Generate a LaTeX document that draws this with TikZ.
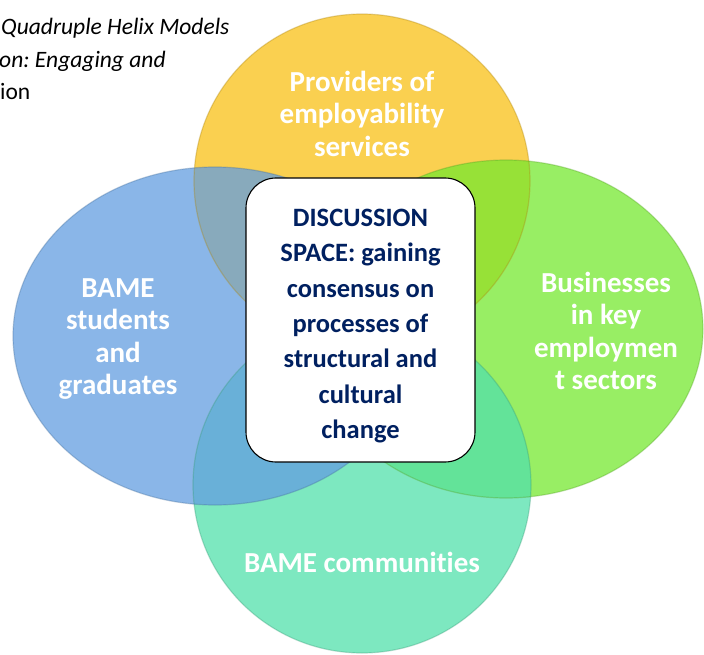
\documentclass[tikz,border=0pt]{standalone}
\usepackage{fontspec}
\setmainfont{Carlito}[RawFeature={-liga;-dlig;-clig}]
\definecolor{provYellow}{RGB}{248,192,22}
\definecolor{studBlue}{RGB}{99,158,224}
\definecolor{bizGreen}{RGB}{118,232,48}
\definecolor{commTeal}{RGB}{82,224,171}
\definecolor{spaceNavy}{RGB}{0,32,96}
\begin{document}
\frenchspacing
\begin{tikzpicture}[x=1pt,y=-1pt,
  group/.style={fill opacity=0.75, line width=1.2pt, draw opacity=0.35},
  grouplabel/.style={text=white, font=\bfseries\fontsize{29}{32.5}\selectfont, align=center, inner sep=0pt},
  spacebox/.style={draw=black, line width=1.1pt, fill=white, rounded corners=30pt,
    minimum width=229pt, minimum height=284pt, inner sep=0pt},
  spacetext/.style={inner sep=0pt, align=center,
    text=spaceNavy, font=\bfseries\fontsize{26.5}{35.3}\selectfont},
  caption/.style={anchor=base west, inner sep=0pt, font=\fontsize{23.5}{28}\selectfont}]
\useasboundingbox (0,0) rectangle (704,655);

% heading fragments
\node[caption, font=\itshape\fontsize{23.5}{28}\selectfont] (capA) at (1,35) {Quadruple Helix Models};
\node[caption, font=\itshape\fontsize{23.5}{28}\selectfont] (capB) at (-1,68) {on: Engaging and};
\node[caption] (capC) at (0,100) {ion};

% the four stakeholder groups
\fill[group, fill=provYellow] (362,181) ellipse [x radius=168pt, y radius=167pt];
\fill[group, fill=bizGreen] (506,329) ellipse [x radius=197pt, y radius=169pt];
\fill[group, fill=commTeal] (362,485) ellipse [x radius=169pt, y radius=168pt];
\fill[group, fill=studBlue] (215,336) ellipse [x radius=202pt, y radius=169pt];
\draw[group, draw=provYellow!70!black] (362,181) ellipse [x radius=168pt, y radius=167pt];
\draw[group, draw=bizGreen!70!black] (506,329) ellipse [x radius=197pt, y radius=169pt];
\draw[group, draw=commTeal!70!black] (362,485) ellipse [x radius=169pt, y radius=168pt];
\draw[group, draw=studBlue!70!black] (215,336) ellipse [x radius=202pt, y radius=169pt];

\node[grouplabel] (providers) at (362,113.5) {Providers of\\employability\\services};
\node[grouplabel] (students) at (118,339) {BAME\\students\\and\\graduates};
\node[grouplabel] (business) at (606,331) {Businesses\\in key\\employmen\\t sectors};
\node[grouplabel] (community) at (362,562) {BAME communities};

% shared discussion space
\node[spacebox] (space) at (360.5,320) {};
\node[spacetext] (spacelabel) at (360.5,326) {DISCUSSION\\SPACE: gaining\\consensus on\\processes of\\structural and\\cultural\\change};
\end{tikzpicture}
\end{document}
